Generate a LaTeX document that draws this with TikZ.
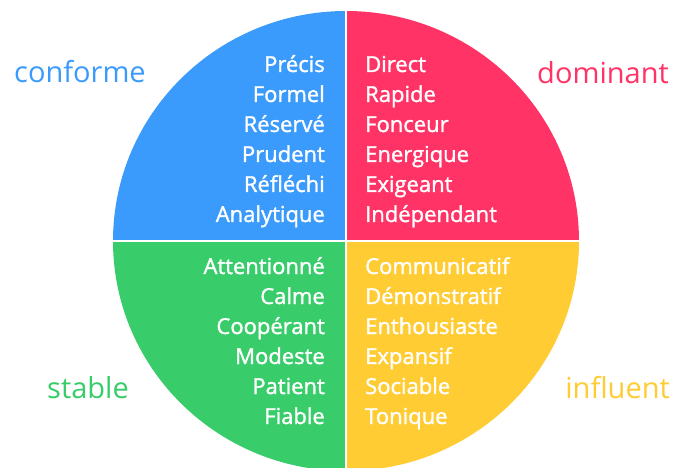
\documentclass[tikz,border=0pt]{standalone}
\usepackage{fontspec}
\setmainfont{Open Sans}
\newfontfamily\traitfont[FakeBold=1.4]{Open Sans}
\begin{document}
\definecolor{cblue}{HTML}{3A9BFC}
\definecolor{cpink}{HTML}{FF3366}
\definecolor{cgreen}{HTML}{38CC6A}
\definecolor{cyellow}{HTML}{FFCC33}
\begin{tikzpicture}[x=1pt,y=-1pt,
  trait/.style={inner sep=0pt,text=white,font=\traitfont\fontsize{22}{22}\selectfont},
  leftword/.style={trait,anchor=base east},
  rightword/.style={trait,anchor=base west},
  profile/.style={inner sep=0pt,font=\fontsize{29}{29}\selectfont}]
\useasboundingbox (0,0) rectangle (675,468);
% four coloured quadrants of the disc
\begin{scope}
  \clip (0,0) rectangle (346,241);
  \fill[cblue] (346,241) ellipse [x radius=233, y radius=230];
\end{scope}
\begin{scope}
  \clip (346,0) rectangle (675,241);
  \fill[cpink] (346,241) ellipse [x radius=233, y radius=230];
\end{scope}
\begin{scope}
  \clip (0,241) rectangle (346,468);
  \fill[cgreen] (346,241) ellipse [x radius=233, y radius=230];
\end{scope}
\begin{scope}
  \clip (346,241) rectangle (675,468);
  \fill[cyellow] (346,241) ellipse [x radius=233, y radius=230];
\end{scope}
% white separators
\draw[white,line width=2pt] (346,0) -- (346,468);
\draw[white,line width=2pt] (100,241) -- (600,241);
% profile names
\node[profile,text=cblue,anchor=base west] (conf) at (14,83) {conforme};
\node[profile,text=cpink,anchor=base east] (domi) at (669,84) {dominant};
\node[profile,text=cgreen,anchor=base west] (stab) at (47,398) {stable};
\node[profile,text=cyellow,anchor=base east] (infl) at (670,398) {influent};
% traits
\node[leftword] (c1) at (325,72) {Précis};
\node[leftword] (c2) at (325,102) {Formel};
\node[leftword] (c3) at (325,132) {Réservé};
\node[leftword] (c4) at (325,162) {Prudent};
\node[leftword] (c5) at (325,192) {Réfléchi};
\node[leftword] (c6) at (325,222) {Analytique};
\node[rightword] (d1) at (365,72) {Direct};
\node[rightword] (d2) at (365,102) {Rapide};
\node[rightword] (d3) at (365,132) {Fonceur};
\node[rightword] (d4) at (365,162) {Energique};
\node[rightword] (d5) at (365,192) {Exigeant};
\node[rightword] (d6) at (365,222) {Indépendant};
\node[leftword] (s1) at (325,274) {Attentionné};
\node[leftword] (s2) at (325,304) {Calme};
\node[leftword] (s3) at (325,334) {Coopérant};
\node[leftword] (s4) at (325,364) {Modeste};
\node[leftword] (s5) at (325,394) {Patient};
\node[leftword] (s6) at (325,424) {Fiable};
\node[rightword] (i1) at (365,274) {Communicatif};
\node[rightword] (i2) at (365,304) {Démonstratif};
\node[rightword] (i3) at (365,334) {Enthousiaste};
\node[rightword] (i4) at (365,364) {Expansif};
\node[rightword] (i5) at (365,394) {Sociable};
\node[rightword] (i6) at (365,424) {Tonique};
\end{tikzpicture}
\end{document}
